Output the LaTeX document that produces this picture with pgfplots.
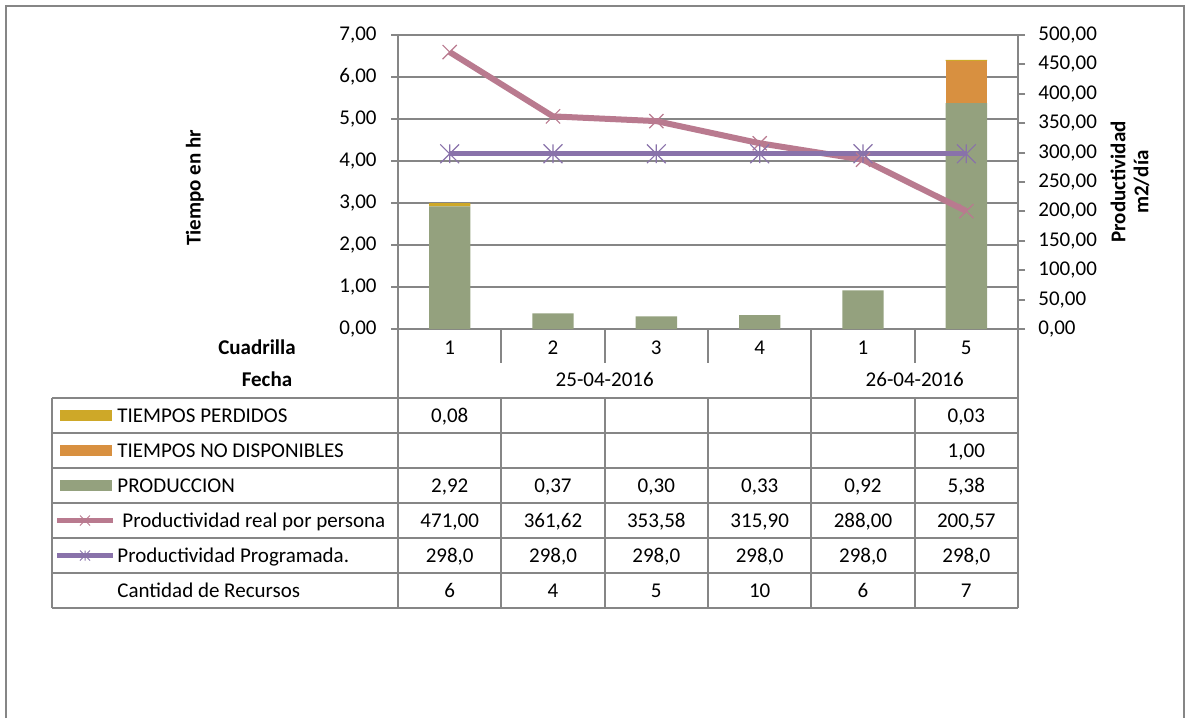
\documentclass[border=0pt]{standalone}
\usepackage{pgfplots}
\pgfplotsset{compat=1.18}
\usepackage{fontspec}
\setmainfont{Carlito}
\definecolor{cgreen}{RGB}{148,161,126}
\definecolor{corange}{RGB}{216,144,64}
\definecolor{cgold}{RGB}{206,168,40}
\definecolor{cpink}{RGB}{185,122,143}
\definecolor{cpurple}{RGB}{137,114,170}
\definecolor{cgray}{RGB}{134,134,134}
\pgfdeclareplotmark{xstar}{%
  \pgfpathmoveto{\pgfqpoint{0pt}{\pgfplotmarksize}}%
  \pgfpathlineto{\pgfqpoint{0pt}{-\pgfplotmarksize}}%
  \pgfpathmoveto{\pgfqpoint{-\pgfplotmarksize}{-\pgfplotmarksize}}%
  \pgfpathlineto{\pgfqpoint{\pgfplotmarksize}{\pgfplotmarksize}}%
  \pgfpathmoveto{\pgfqpoint{-\pgfplotmarksize}{\pgfplotmarksize}}%
  \pgfpathlineto{\pgfqpoint{\pgfplotmarksize}{-\pgfplotmarksize}}%
  \pgfusepathqstroke}
\newcommand{\fs}{\fontsize{10.5}{12.6}\selectfont}
\newcommand{\trow}[7]{%
  \node[anchor=base] at (449.7,#1) {#2};
  \node[anchor=base] at (553,#1) {#3};
  \node[anchor=base] at (656.3,#1) {#4};
  \node[anchor=base] at (759.7,#1) {#5};
  \node[anchor=base] at (863,#1) {#6};
  \node[anchor=base] at (966.3,#1) {#7};}
\begin{document}
\begin{tikzpicture}
\useasboundingbox (0,0) rectangle (593.5pt,-359pt);
\pgfplotsset{
  common/.style={
    at={(199pt,-164.5pt)}, anchor=south west,
    scale only axis, width=310pt, height=147pt,
    xmin=-0.5, xmax=5.5,
    axis line style={draw=cgray, line width=1pt, -},
    tick style={draw=cgray, line width=1pt},
    tick align=outside, major tick length=3.5pt,
    tick label style={font=\fs},
    yticklabel={\pgfmathprintnumber[fixed,fixed zerofill,precision=2,use comma,assume math mode=true]{\tick}},
  }
}
\begin{axis}[common,
  ymin=0, ymax=7, ytick={0,1,...,7},
  ybar stacked, bar width=0.4,
  axis x line*=bottom, axis y line*=left,
  xtick=\empty,
  ymajorgrids, grid style={draw=cgray, line width=0.75pt},
  yticklabel style={anchor=east, inner sep=0pt, xshift=-7pt},
]
\addplot[fill=cgreen, draw=none] coordinates {(0,2.92) (1,0.37) (2,0.30) (3,0.33) (4,0.92) (5,5.38)};
\addplot[fill=corange, draw=none] coordinates {(0,0) (1,0) (2,0) (3,0) (4,0) (5,1.00)};
\addplot[fill=cgold, draw=none] coordinates {(0,0.08) (1,0) (2,0) (3,0) (4,0) (5,0.03)};
\end{axis}
\begin{axis}[common,
  ymin=0, ymax=500, ytick={0,50,...,500},
  axis x line=none, axis y line*=right,
  yticklabel style={anchor=west, inner sep=0pt, xshift=6.5pt},
]
\addplot[cpink, line width=3pt, mark=x, mark size=5pt, mark options={line width=0.6pt, solid}] coordinates {(0,471.00) (1,361.62) (2,353.58) (3,315.90) (4,288.00) (5,200.57)};
\addplot[cpurple, line width=2.6pt, mark=xstar, mark size=4.7pt, mark options={line width=0.6pt, solid}] coordinates {(0,298.0) (1,298.0) (2,298.0) (3,298.0) (4,298.0) (5,298.0)};
\end{axis}
\begin{scope}[x=0.5pt, y=-0.5pt, font=\fs]
  % outer border
  \draw[cgray, line width=1pt] (6,718) -- (6,6) -- (1184,6) -- (1184,718);
  % header dividers
  \foreach \x in {501.3,604.7,708,914.7} \draw[cgray, line width=0.9pt] (\x,329) -- (\x,363);
  \draw[cgray, line width=0.9pt] (811.3,329) -- (811.3,398);
  \draw[cgray, line width=0.9pt] (398,329) -- (398,608);
  \draw[cgray, line width=0.9pt] (1018,329) -- (1018,608);
  % table grid
  \foreach \y in {398,433,468,503,538,573,608} \draw[cgray, line width=0.9pt] (52,\y) -- (1018,\y);
  \draw[cgray, line width=0.9pt] (52,398) -- (52,608);
  \foreach \x in {501.3,604.7,708,811.3,914.7} \draw[cgray, line width=0.9pt] (\x,398) -- (\x,608);
  % axis titles
  \node[rotate=90, font=\fs\bfseries] at (195,188) {Tiempo en hr};
  \node[rotate=90, align=center, font=\fontsize{10.5}{11.5}\selectfont\bfseries] at (1130,182) {Productividad\\m2/día};
  % header labels
  \node[font=\fs\bfseries, anchor=base] at (257,354.8) {Cuadrilla};
  \node[font=\fs\bfseries, anchor=base] at (267,386.8) {Fecha};
  \trow{354.8}{1}{2}{3}{4}{1}{5}
  \node[anchor=base] at (604.7,386.8) {25-04-2016};
  \node[anchor=base] at (914.7,386.8) {26-04-2016};
  % legend column
  \fill[cgold] (60,410) rectangle (112,421);
  \fill[corange] (60,445) rectangle (112,456);
  \fill[cgreen] (60,480) rectangle (112,491);
  \draw[cpink, line width=2.2pt] (57,520.5) -- (113,520.5);
  \draw[cpink, line width=0.5pt] (80,515.5) -- (90,525.5) (80,525.5) -- (90,515.5);
  \draw[cpurple, line width=2.2pt] (57,555.5) -- (113,555.5);
  \draw[cpurple, line width=0.5pt] (80,550.5) -- (90,560.5) (80,560.5) -- (90,550.5) (85,550.5) -- (85,560.5);
  \node[anchor=base west, inner sep=0pt] at (117,422.3) {TIEMPOS PERDIDOS};
  \node[anchor=base west, inner sep=0pt] at (117,457.3) {TIEMPOS NO DISPONIBLES};
  \node[anchor=base west, inner sep=0pt] at (117,492.3) {PRODUCCION};
  \node[anchor=base west, inner sep=0pt] at (122,527.3) {Productividad real por persona};
  \node[anchor=base west, inner sep=0pt] at (117,562.3) {Productividad Programada.};
  \node[anchor=base west, inner sep=0pt] at (117,597.3) {Cantidad de Recursos};
  % table values
  \trow{422.3}{0,08}{}{}{}{}{0,03}
  \trow{457.3}{}{}{}{}{}{1,00}
  \trow{492.3}{2,92}{0,37}{0,30}{0,33}{0,92}{5,38}
  \trow{527.3}{471,00}{361,62}{353,58}{315,90}{288,00}{200,57}
  \trow{562.3}{298,0}{298,0}{298,0}{298,0}{298,0}{298,0}
  \trow{597.3}{6}{4}{5}{10}{6}{7}
\end{scope}
\end{tikzpicture}
\end{document}
